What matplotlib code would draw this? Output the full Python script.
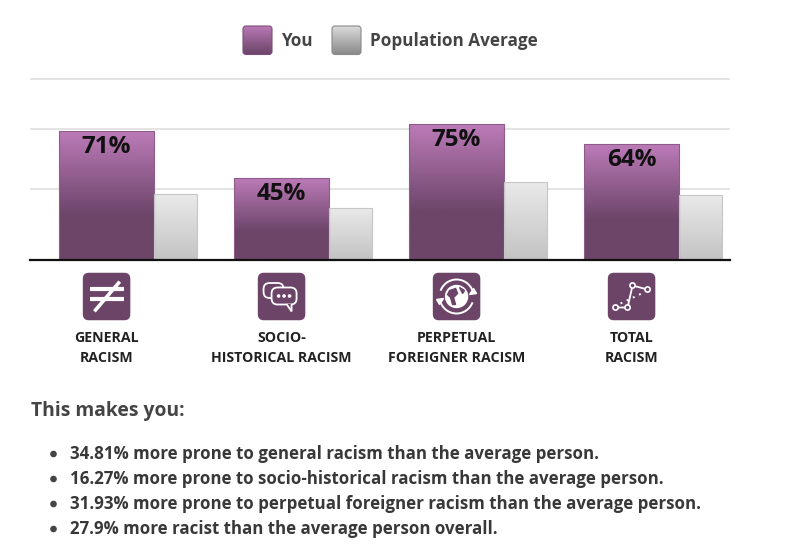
import numpy as np
import matplotlib
matplotlib.use("Agg")
import matplotlib.pyplot as plt
from matplotlib.patches import FancyBboxPatch, Circle, Arc, Polygon
from matplotlib.colors import to_rgb

plt.rcParams['font.family'] = ['Open Sans', 'DejaVu Sans']

# data
categories = [("GENERAL", "RACISM"), ("SOCIO-", "HISTORICAL RACISM"),
              ("PERPETUAL", "FOREIGNER RACISM"), ("TOTAL", "RACISM")]
you = [71, 45, 75, 64]
population = [36.2, 28.7, 43.1, 36.1]
grid_values = [39.2, 72.5, 100]
series_names = ["You", "Population Average"]
summary = [
    "34.81% more prone to general racism than the average person.",
    "16.27% more prone to socio-historical racism than the average person.",
    "31.93% more prone to perpetual foreigner racism than the average person.",
    "27.9% more racist than the average person overall.",
]

PURPLE_TOP = "#bc7bb8"
PURPLE_DARK = "#6c4569"
GRAY_TOP = "#eaeaea"
GRAY_BOT = "#c3c3c3"
TEXT = "#444444"


def gradient(c_top, c_bot, stop=1.0, n=200):
    t = np.linspace(0, 1, n)
    f = np.clip(t / stop, 0, 1)[:, None]
    a, b = np.array(to_rgb(c_top)), np.array(to_rgb(c_bot))
    return (a * (1 - f) + b * f)[:, None, :]


def fill_bars(ax, bars, grad):
    for r in bars:
        x, y, w, h = r.get_x(), r.get_y(), r.get_width(), r.get_height()
        im = ax.imshow(grad, extent=[x, x + w, y, y + h], aspect='auto',
                       origin='upper', zorder=r.get_zorder() - 0.1,
                       interpolation='bilinear')
        im.set_clip_path(r)


fig = plt.figure(figsize=(7.88, 5.46), dpi=100)
W, H = 788, 546

# main bar axes: x 30..730 px, baseline at 260 px
px_per_pct = 1.812
y_top = 101
ax = fig.add_axes([30 / W, 1 - 260 / H, 700 / W, y_top * px_per_pct / H])
idx = np.arange(len(you))
off, w_you, w_pop = -0.334, 0.543, 0.247

b_you = ax.bar(idx + off, you, width=w_you, align='edge', facecolor='none',
               edgecolor='#8d5c8a', linewidth=0.8, zorder=3)
b_pop = ax.bar(idx + off + w_you, population, width=w_pop, align='edge',
               facecolor='none', edgecolor='#c6c6c6', linewidth=0.8, zorder=3)
fill_bars(ax, b_you, gradient(PURPLE_TOP, PURPLE_DARK, stop=0.65))
fill_bars(ax, b_pop, gradient(GRAY_TOP, GRAY_BOT))

for r, v in zip(b_you, you):
    ax.annotate(f"{v}%", xy=(r.get_x() + r.get_width() / 2, v),
                xytext=(0, -11.5), textcoords='offset points',
                ha='center', va='center', fontsize=17.5, fontweight='bold',
                color='#111111', zorder=5)

ax.set_xlim(-0.5, len(you) - 0.5)
ax.set_ylim(0, y_top)
ax.set_yticks(grid_values)
ax.set_xticks([])
ax.tick_params(length=0, labelleft=False)
ax.grid(axis='y', color='#e2e2e2', linewidth=1.3)
ax.set_axisbelow(True)
for s in ax.spines.values():
    s.set_visible(False)
ax.axhline(0, color='#111111', linewidth=1.6, zorder=6, clip_on=False)

# overlay in pixel coordinates for legend, icons and text
ov = fig.add_axes([0, 0, 1, 1], zorder=-1)
ov.set_xlim(0, W)
ov.set_ylim(H, 0)
ov.axis('off')


def grad_box(x0, y0, w, h, c_top, c_bot, edge, rs=3):
    box = FancyBboxPatch((x0, y0), w, h, boxstyle=f"round,pad=0,rounding_size={rs}",
                         facecolor='none', edgecolor=edge, linewidth=0.8, zorder=3)
    ov.add_patch(box)
    im = ov.imshow(gradient(c_top, c_bot), extent=[x0, x0 + w, y0 + h, y0],
                   aspect='auto', origin='upper', zorder=2, interpolation='bilinear')
    im.set_clip_path(box)


# legend
grad_box(243, 26, 29, 28.5, PURPLE_TOP, PURPLE_DARK, '#7a4f77')
ov.text(281, 40.5, series_names[0], fontsize=12.3, fontweight='bold',
        color=TEXT, va='center', ha='left')
grad_box(332, 26, 29, 28.5, '#dedede', '#8a8a8a', '#8a8a8a')
ov.text(370, 40.5, series_names[1], fontsize=12.3, fontweight='bold',
        color=TEXT, va='center', ha='left')

# icons + category labels
icon_c = '#6b4468'
wc = 'white'
for i, (l1, l2) in enumerate(categories):
    cx = 30 + 175 * (i + 0.5 + off + w_you / 2)
    cy = 296.5
    s = 47.5
    ov.add_patch(FancyBboxPatch((cx - s / 2, cy - s / 2), s, s,
                                boxstyle="round,pad=0,rounding_size=6",
                                facecolor=icon_c, edgecolor='none', zorder=2))
    if i == 0:
        ov.plot([cx - 17, cx + 17], [cy - 7.5, cy - 7.5], color=wc, lw=3, zorder=3,
                solid_capstyle='butt')
        ov.plot([cx - 17, cx + 17], [cy + 2, cy + 2], color=wc, lw=3, zorder=3,
                solid_capstyle='butt')
        ov.plot([cx - 11, cx + 12], [cy + 13.5, cy - 13.5], color=wc, lw=2.6, zorder=3)
    elif i == 1:
        ov.add_patch(FancyBboxPatch((cx - 18, cy - 13.5), 20, 15,
                                    boxstyle="round,pad=0,rounding_size=6",
                                    facecolor=icon_c, edgecolor=wc, lw=1.3, zorder=3))
        ov.add_patch(FancyBboxPatch((cx - 10, cy - 9), 25, 17,
                                    boxstyle="round,pad=0,rounding_size=6",
                                    facecolor=icon_c, edgecolor=wc, lw=1.3, zorder=4))
        ov.add_patch(Polygon([[cx + 5, cy + 7.5], [cx + 10, cy + 15], [cx + 10, cy + 7.5]],
                             closed=False, facecolor=icon_c, edgecolor=wc, lw=1.3, zorder=5))
        for dx in (-3, 2.5, 8):
            ov.add_patch(Circle((cx + dx, cy - 0.5), 1.1, color=wc, zorder=6))
    elif i == 2:
        ov.add_patch(Arc((cx, cy), 34, 34, theta1=200, theta2=340, color=wc, lw=1.4, zorder=3))
        ov.add_patch(Arc((cx, cy), 34, 34, theta1=20, theta2=160, color=wc, lw=1.4, zorder=3))
        ov.add_patch(Polygon([[cx + 17, cy - 8], [cx + 13, cy - 2], [cx + 20, cy - 3]],
                             color=wc, zorder=3))
        ov.add_patch(Polygon([[cx - 17, cy + 8], [cx - 13, cy + 2], [cx - 20, cy + 3]],
                             color=wc, zorder=3))
        ov.add_patch(Circle((cx, cy), 11, color=wc, zorder=3))
        ov.add_patch(Polygon([[cx - 7, cy - 6], [cx - 1, cy - 8], [cx + 1, cy - 3],
                              [cx - 3, cy + 1], [cx - 1, cy + 8], [cx - 4, cy + 8],
                              [cx - 6, cy + 1], [cx - 9, cy - 2]],
                             color=icon_c, zorder=4))
        ov.add_patch(Polygon([[cx + 3, cy - 9], [cx + 8, cy - 6], [cx + 6, cy - 3]],
                             color=icon_c, zorder=4))
    else:
        pts = np.array([[cx - 16, cy + 11], [cx - 4, cy + 11], [cx + 1, cy - 11],
                        [cx + 16, cy - 7]])
        ov.plot(pts[:, 0], pts[:, 1], color=wc, lw=1.3, zorder=3)
        ov.plot([cx - 11, cx + 10], [cy + 7, cy - 3], color=wc, lw=1.4,
                linestyle=(0, (1, 2.5)), zorder=3)
        for p in pts:
            ov.add_patch(Circle(p, 2.6, facecolor=icon_c, edgecolor=wc, lw=1.2, zorder=4))
    ov.text(cx, 338.5, l1, ha='center', va='center', fontsize=10.2,
            fontweight='bold', color='#222222')
    ov.text(cx, 358.5, l2, ha='center', va='center', fontsize=10.2,
            fontweight='bold', color='#222222')

# summary text
ov.text(31, 411, "This makes you:", fontsize=13.9, fontweight='bold', color=TEXT,
        va='center', ha='left')
for k, line in enumerate(summary):
    y = 454 + 25 * k
    ov.add_patch(Circle((53.5, y), 2.6, color='#444444', zorder=3))
    ov.text(70, y, line, fontsize=12.2, fontweight='bold', color='#383838',
            va='center', ha='left')

fig.savefig("out.png", dpi=100, facecolor='white')
